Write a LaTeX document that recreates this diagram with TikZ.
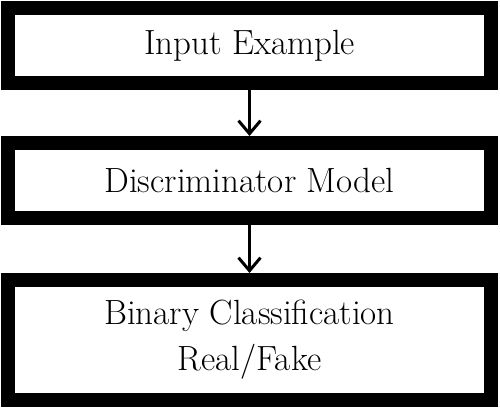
\documentclass[tikz,border=0pt]{standalone}
\usepackage{tikz}
\usetikzlibrary{arrows.meta}
\usetikzlibrary{shapes,positioning,calc}

\tikzset{
  stagebox/.style={draw=black, line width=14pt, fill=white, minimum width=483pt,
    inner sep=0pt, align=center, font=\fontsize{35}{46}\selectfont},
  flowarrow/.style={line width=3pt, -{Straight Barb[length=13pt, width=22pt, line width=3pt]}}
}

\begin{document}
\begin{tikzpicture}[x=1pt, y=-1pt]
		\useasboundingbox (0,0) rectangle (500,409);
		\node[stagebox, minimum height=75pt] (input) at (249.5,45.5) {Input Example};
		\node[stagebox, minimum height=75pt] (disc) at (249.5,180.5) {Discriminator Model};
		\node[stagebox, minimum height=120pt] (classif) at (249.5,340) {Binary Classification\\Real/Fake};
		\draw[flowarrow] (input.south) -- (disc.north);
		\draw[flowarrow] (disc.south) -- (classif.north);
		\end{tikzpicture}
\end{document}
